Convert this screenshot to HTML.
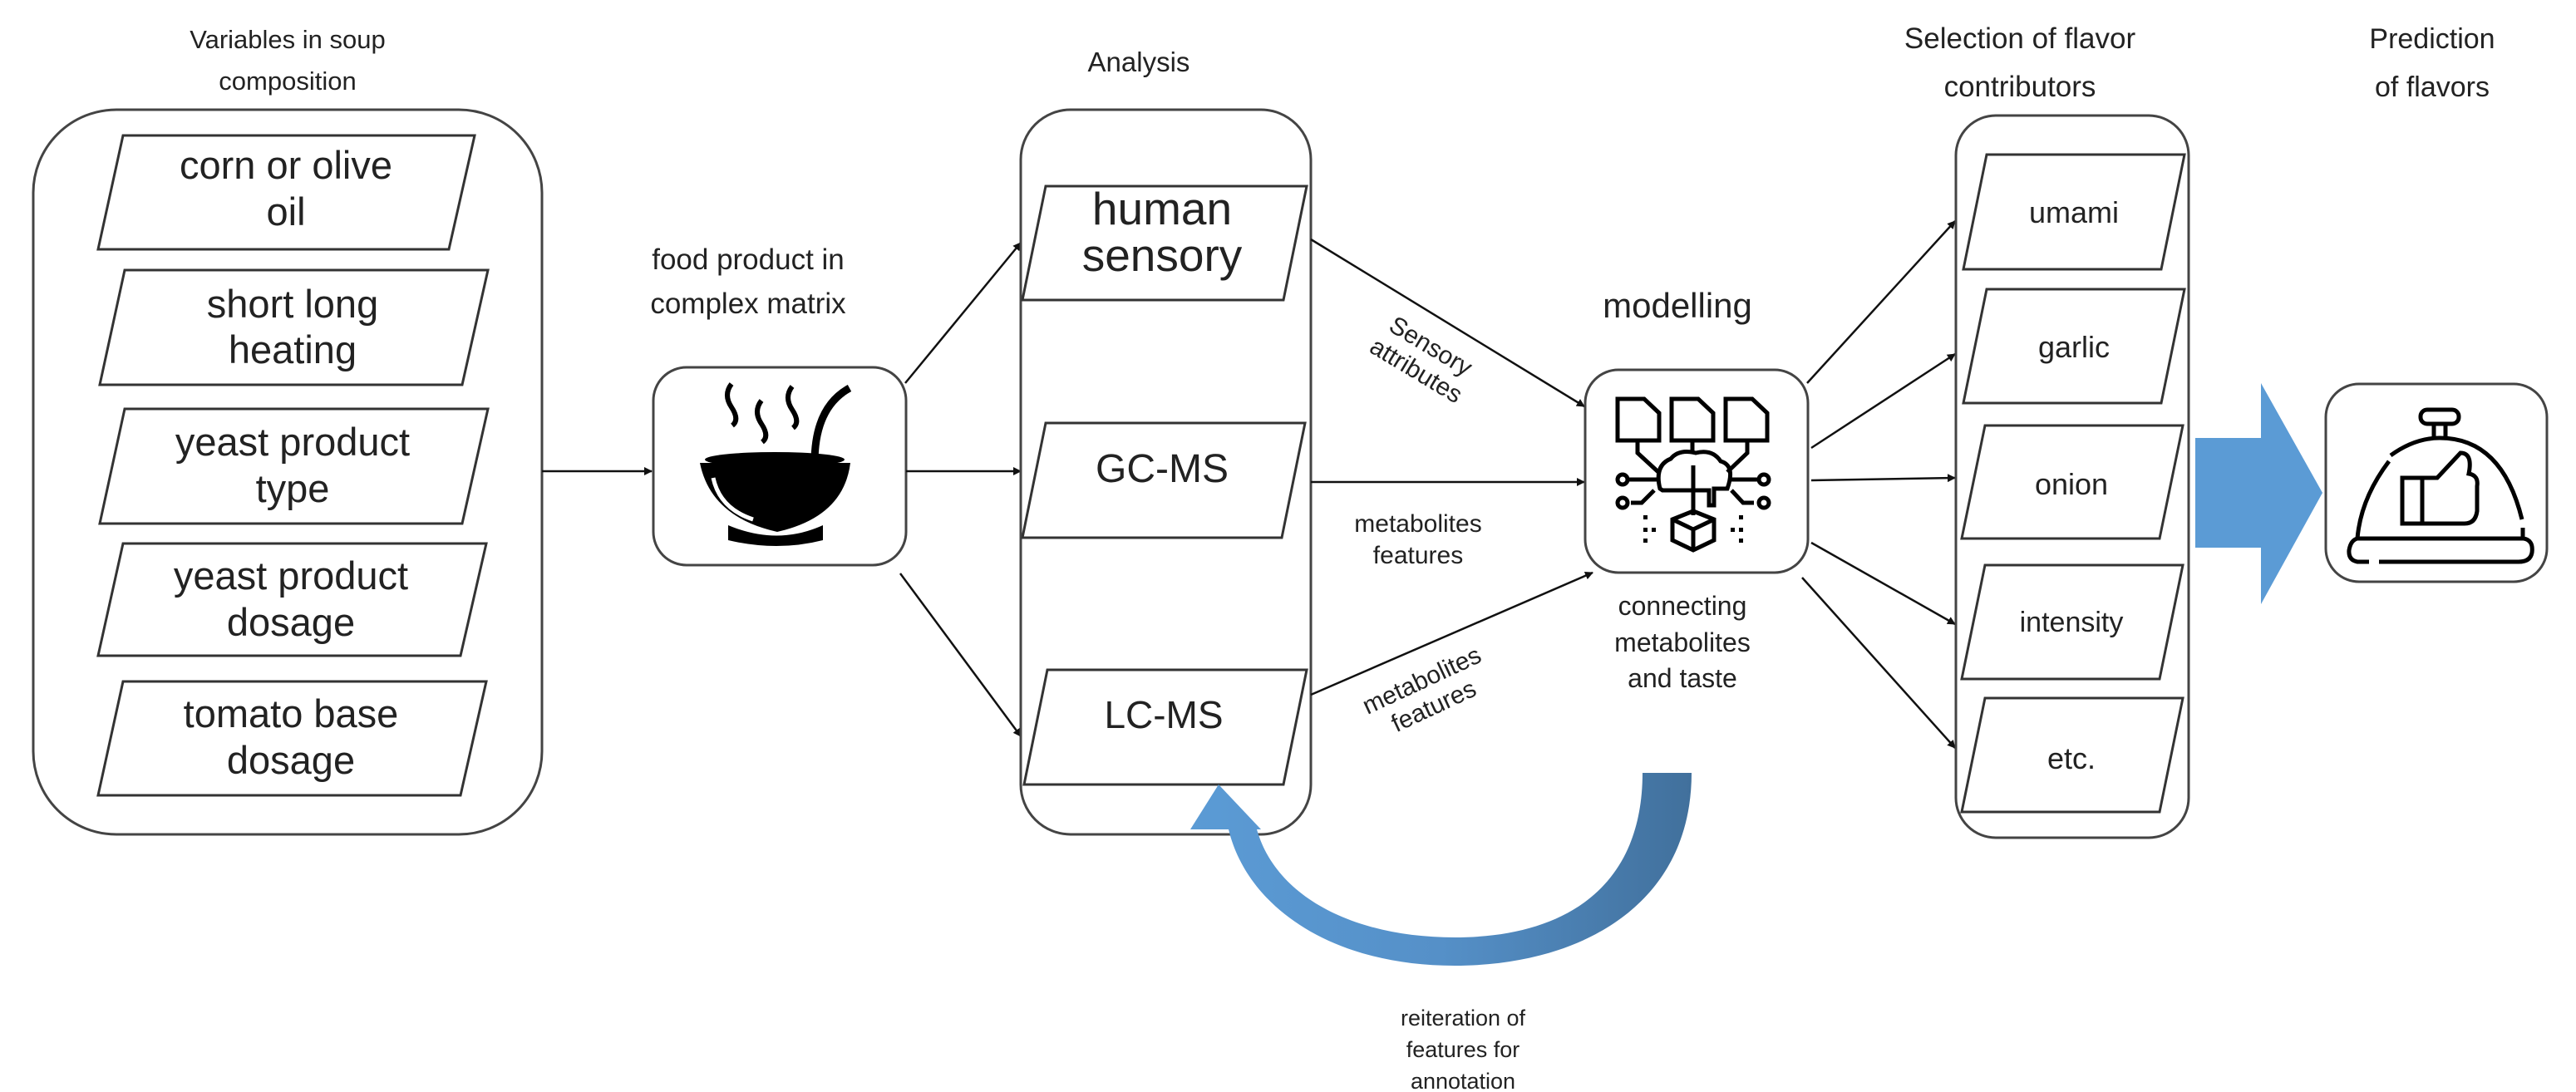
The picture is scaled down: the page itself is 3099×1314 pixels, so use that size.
<!DOCTYPE html>
<html><head><meta charset="utf-8"><style>
html,body{margin:0;padding:0;background:#fff;}
svg{display:block;}
text{font-family:"Liberation Sans",sans-serif;fill:#222;}
</style></head><body>
<svg width="3099" height="1314" viewBox="0 0 3099 1314" xmlns="http://www.w3.org/2000/svg">
<defs>
<marker id="ah" markerWidth="10" markerHeight="10" refX="9" refY="5" orient="auto" markerUnits="userSpaceOnUse" viewBox="0 0 10 10"><path d="M0,0 L10,5 L0,10 z" fill="#111"/></marker>
<linearGradient id="cg" x1="0" y1="0" x2="1" y2="0"><stop offset="0" stop-color="#5b9bd5"/><stop offset="0.5" stop-color="#5590c8"/><stop offset="1" stop-color="#41709c"/></linearGradient>
</defs>
<style>
.box{fill:#fff;stroke:#444;stroke-width:3}
.pg{fill:#fff;stroke:#333;stroke-width:3}
.ln{stroke:#111;stroke-width:2.5;fill:none}
.tp{font-size:47px}
.tt{font-size:31px}
.ts{font-size:30px}
</style>

<!-- titles -->
<text class="tt" x="346" y="58" text-anchor="middle">Variables in soup</text>
<text class="tt" x="346" y="108" text-anchor="middle">composition</text>
<text style="font-size:33px" x="1370" y="86" text-anchor="middle">Analysis</text>
<text style="font-size:35px" x="2430" y="58" text-anchor="middle">Selection of flavor</text>
<text style="font-size:35px" x="2430" y="116" text-anchor="middle">contributors</text>
<text style="font-size:34px" x="2926" y="58" text-anchor="middle">Prediction</text>
<text style="font-size:34px" x="2926" y="116" text-anchor="middle">of flavors</text>

<!-- left box -->
<rect class="box" x="40" y="132" width="612" height="872" rx="100"/>
<polygon class="pg" points="148,163 571,163 540,300 118,300"/>
<text class="tp" x="344" y="215" text-anchor="middle">corn or olive</text>
<text class="tp" x="344" y="271" text-anchor="middle">oil</text>
<polygon class="pg" points="150,325 587,325 556,463 120,463"/>
<text class="tp" x="352" y="382" text-anchor="middle">short long</text>
<text class="tp" x="352" y="437" text-anchor="middle">heating</text>
<polygon class="pg" points="150,492 587,492 556,630 120,630"/>
<text class="tp" x="352" y="548" text-anchor="middle">yeast product</text>
<text class="tp" x="352" y="604" text-anchor="middle">type</text>
<polygon class="pg" points="148,654 585,654 554,789 118,789"/>
<text class="tp" x="350" y="709" text-anchor="middle">yeast product</text>
<text class="tp" x="350" y="765" text-anchor="middle">dosage</text>
<polygon class="pg" points="148,820 585,820 554,957 118,957"/>
<text class="tp" x="350" y="875" text-anchor="middle">tomato base</text>
<text class="tp" x="350" y="931" text-anchor="middle">dosage</text>

<!-- arrow to bowl -->
<line class="ln" x1="652" y1="567" x2="784" y2="567" marker-end="url(#ah)"/>

<!-- bowl box -->
<text style="font-size:35px" x="900" y="324" text-anchor="middle">food product in</text>
<text style="font-size:35px" x="900" y="377" text-anchor="middle">complex matrix</text>
<rect class="box" x="786" y="442" width="304" height="238" rx="40"/>
<g fill="#000">
<path d="M842,557 L1023,557 Q1015,622 935,640 Q855,622 842,557 Z"/>
<path d="M876,632 Q935,657 990,632 L990,650 Q935,664 876,650 Z"/>
<ellipse cx="932" cy="553" rx="84" ry="9"/>
</g>
<path d="M858,575 Q866,612 906,625" stroke="#fff" stroke-width="5" fill="none"/>
<path d="M980,557 Q980,490 1022,467" stroke="#000" stroke-width="9" fill="none"/>
<g stroke="#000" stroke-width="6" fill="none">
<path d="M880,462 Q870,475 880,490 Q890,505 881,512"/>
<path d="M916,482 Q906,495 916,510 Q926,525 917,532"/>
<path d="M953,465 Q943,478 953,493 Q963,508 954,515"/>
</g>

<!-- arrows from bowl -->
<line class="ln" x1="1089" y1="461" x2="1228" y2="292" marker-end="url(#ah)"/>
<line class="ln" x1="1090" y1="567" x2="1228" y2="567" marker-end="url(#ah)"/>
<line class="ln" x1="1083" y1="690" x2="1228" y2="886" marker-end="url(#ah)"/>

<!-- analysis box -->
<rect class="box" x="1228" y="132" width="349" height="872" rx="60"/>
<polygon class="pg" points="1258,224 1572,224 1544,361 1230,361"/>
<text style="font-size:55px" x="1398" y="270" text-anchor="middle">human</text>
<text style="font-size:55px" x="1398" y="326" text-anchor="middle">sensory</text>
<polygon class="pg" points="1258,509 1570,509 1542,647 1230,647"/>
<text style="font-size:48px" x="1398" y="580" text-anchor="middle">GC-MS</text>
<polygon class="pg" points="1260,806 1572,806 1544,944 1232,944"/>
<text style="font-size:46px" x="1400" y="876" text-anchor="middle">LC-MS</text>

<!-- arrows to modelling -->
<line class="ln" x1="1577" y1="288" x2="1906" y2="489" marker-end="url(#ah)"/>
<line class="ln" x1="1577" y1="580" x2="1906" y2="580" marker-end="url(#ah)"/>
<line class="ln" x1="1577" y1="836" x2="1916" y2="689" marker-end="url(#ah)"/>
<text class="ts" transform="translate(1712,432) rotate(31)" text-anchor="middle"><tspan x="0" y="-8">Sensory</tspan><tspan x="0" y="26">attributes</tspan></text>
<text class="ts" x="1706" y="640" text-anchor="middle">metabolites</text>
<text class="ts" x="1706" y="678" text-anchor="middle">features</text>
<text class="ts" transform="translate(1718,835) rotate(-25)" text-anchor="middle"><tspan x="0" y="-8">metabolites</tspan><tspan x="0" y="26">features</tspan></text>

<!-- modelling -->
<text style="font-size:42px" x="2018" y="382" text-anchor="middle">modelling</text>
<rect class="box" x="1907" y="445" width="268" height="244" rx="40"/>
<g stroke="#000" stroke-width="5" fill="none">
<path d="M1946,480 L1978,480 L1996,497 L1996,530 L1946,530 Z"/>
<path d="M2011,480 L2043,480 L2061,497 L2061,530 L2011,530 Z"/>
<path d="M2076,480 L2108,480 L2126,497 L2126,530 L2076,530 Z"/>
<path d="M1970,532 L1970,545 L1995,568"/>
<path d="M2036,532 L2036,545"/>
<path d="M2102,532 L2102,545 L2078,568"/>
<path d="M1997,588 Q1990,560 2010,552 Q2020,540 2040,545 Q2060,540 2070,555 Q2088,560 2078,588 L2062,588 L2062,608 L2056,608 L2056,590 L2000,590 Z"/>
<line x1="2037" y1="560" x2="2037" y2="620"/>
<line x1="1958" y1="577" x2="1994" y2="577"/>
<line x1="2080" y1="577" x2="2114" y2="577"/>
<path d="M1962,605 L1975,605 L1990,590"/>
<path d="M2110,605 L2097,605 L2083,590"/>
<circle cx="1952" cy="577" r="6"/><circle cx="1952" cy="605" r="6"/>
<circle cx="2122" cy="577" r="6"/><circle cx="2122" cy="605" r="6"/>
<path d="M2012,625 L2037,615 L2062,625 L2062,650 L2037,662 L2012,650 Z"/>
<path d="M2012,625 L2037,637 L2062,625 M2037,637 L2037,662"/>
</g>
<g fill="#000"><rect x="1977" y="620" width="5" height="5"/><rect x="1977" y="635" width="5" height="5"/><rect x="1987" y="635" width="5" height="5"/><rect x="1977" y="648" width="5" height="5"/>
<rect x="2092" y="620" width="5" height="5"/><rect x="2092" y="635" width="5" height="5"/><rect x="2082" y="635" width="5" height="5"/><rect x="2092" y="648" width="5" height="5"/></g>
<text style="font-size:32px" x="2024" y="740" text-anchor="middle">connecting</text>
<text style="font-size:32px" x="2024" y="784" text-anchor="middle">metabolites</text>
<text style="font-size:32px" x="2024" y="827" text-anchor="middle">and taste</text>

<!-- arrows to selection -->
<line class="ln" x1="2174" y1="461" x2="2352" y2="266" marker-end="url(#ah)"/>
<line class="ln" x1="2179" y1="539" x2="2352" y2="426" marker-end="url(#ah)"/>
<line class="ln" x1="2179" y1="578" x2="2352" y2="575" marker-end="url(#ah)"/>
<line class="ln" x1="2179" y1="653" x2="2352" y2="751" marker-end="url(#ah)"/>
<line class="ln" x1="2168" y1="695" x2="2352" y2="900" marker-end="url(#ah)"/>

<!-- selection box -->
<rect class="box" x="2353" y="139" width="280" height="869" rx="48"/>
<polygon class="pg" points="2390,186 2628,186 2600,324 2362,324"/>
<text style="font-size:36px" x="2495" y="268" text-anchor="middle">umami</text>
<polygon class="pg" points="2390,348 2628,348 2600,485 2362,485"/>
<text style="font-size:36px" x="2495" y="430" text-anchor="middle">garlic</text>
<polygon class="pg" points="2388,512 2626,512 2598,648 2360,648"/>
<text style="font-size:36px" x="2492" y="595" text-anchor="middle">onion</text>
<polygon class="pg" points="2388,680 2626,680 2598,817 2360,817"/>
<text style="font-size:34px" x="2492" y="760" text-anchor="middle">intensity</text>
<polygon class="pg" points="2388,840 2626,840 2598,977 2360,977"/>
<text style="font-size:36px" x="2492" y="925" text-anchor="middle">etc.</text>

<!-- big blue arrow -->
<polygon points="2641,527 2720,527 2720,461 2794,593 2720,727 2720,659 2641,659" fill="#5b9bd5"/>

<!-- prediction box -->
<rect class="box" x="2798" y="462" width="266" height="238" rx="40"/>
<g stroke="#000" stroke-width="5" fill="none">
<rect x="2912" y="493" width="46" height="17" rx="8"/>
<line x1="2928" y1="510" x2="2928" y2="527"/><line x1="2942" y1="510" x2="2942" y2="527"/>
<path d="M2874,555 Q2840,600 2836,648"/>
<path d="M2876,548 Q2905,527 2935,527 Q3010,527 3034,625"/>
<path d="M3035,635 L3035,648"/>
<path d="M2836,648 L3036,648 Q3048,650 3046,665 Q3044,676 3030,676 L2862,676 M2850,676 L2836,676 Q2825,674 2826,662 Q2828,650 2836,648"/>
<rect x="2890" y="575" width="24" height="55"/>
<path d="M2914,575 L2932,575 L2960,545 Q2975,545 2970,570 Q2982,572 2980,585 L2980,615 Q2978,630 2965,630 L2914,630"/>
</g>

<!-- curved blue arrow -->
<path d="M2035,930 C2035,1090 1900,1162 1750,1162 C1600,1162 1500,1090 1478,998 L1432,998 L1466,944 L1517,998 L1512,998 C1535,1080 1630,1128 1750,1128 C1880,1128 1976,1070 1976,930 Z" fill="url(#cg)"/>
<text style="font-size:27px" x="1760" y="1234" text-anchor="middle">reiteration of</text>
<text style="font-size:27px" x="1760" y="1272" text-anchor="middle">features for</text>
<text style="font-size:27px" x="1760" y="1310" text-anchor="middle">annotation</text>
</svg>
</body></html>
